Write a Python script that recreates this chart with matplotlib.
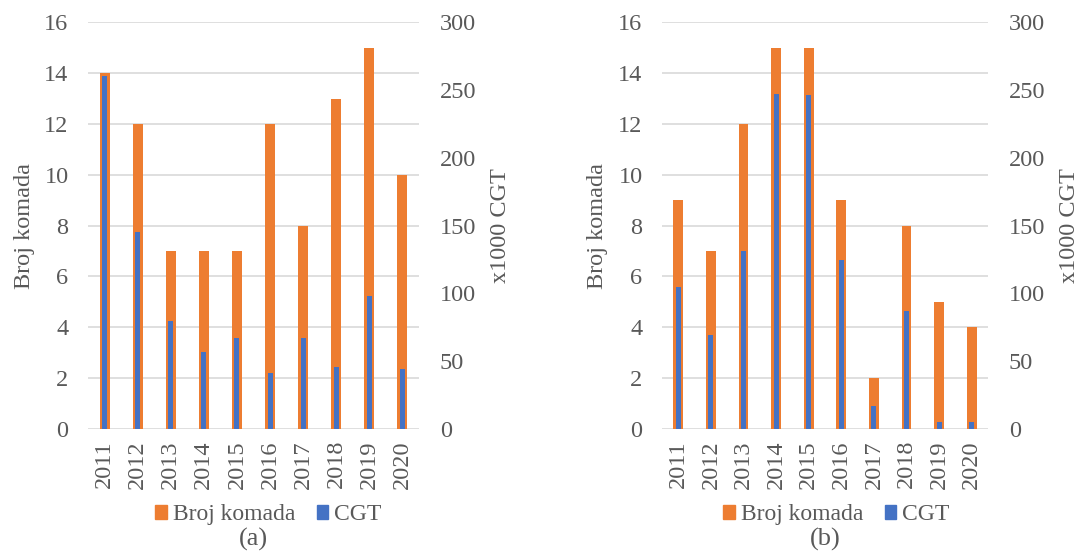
import numpy as np
import matplotlib.pyplot as plt
from matplotlib.patches import Patch

plt.rcParams['font.family'] = ['Liberation Serif', 'DejaVu Serif']

years = ['2011', '2012', '2013', '2014', '2015', '2016', '2017', '2018', '2019', '2020']

# panel (a)
komada_a = [14, 12, 7, 7, 7, 12, 8, 13, 15, 10]
cgt_a = [260, 145, 80, 57, 67, 41, 67, 46, 98, 44]

# panel (b)
komada_b = [9, 7, 12, 15, 15, 9, 2, 8, 5, 4]
cgt_b = [105, 69, 131, 247, 246, 125, 17, 87, 5, 5]

orange = '#ED7D31'
blue = '#4472C4'
txt = '#595959'
grid = '#D9D9D9'
fs = 17.5

fig = plt.figure(figsize=(10.91, 5.56), dpi=100)
panels = [
    (fig.add_axes([0.0807, 0.2284, 0.3033, 0.7316]), komada_a, cgt_a, '(a)', 0.0137),
    (fig.add_axes([0.6068, 0.2284, 0.2988, 0.7316]), komada_b, cgt_b, '(b)', 0.0105),
]

x = np.arange(len(years))
for ax, kom, cgt, tag, shift in panels:
    ax.bar(x, kom, width=0.30, color=orange, zorder=2)
    ax.set_ylim(0, 16)
    ax.set_yticks(range(0, 17, 2))
    ax.set_xlim(-0.5, len(years) - 0.5)
    ax.set_xticks(x)
    ax.set_xticklabels(years, rotation=90)
    ax.yaxis.grid(True, color=grid, linewidth=1.2, zorder=0)
    ax.set_axisbelow(True)
    ax.set_ylabel('Broj komada', fontsize=fs, color=txt, labelpad=7)
    ax.tick_params(axis='y', length=0, pad=14, labelsize=fs, labelcolor=txt)
    ax.tick_params(axis='x', length=0, pad=8, labelsize=fs, labelcolor=txt)
    for s in ax.spines.values():
        s.set_visible(False)

    ax2 = ax.twinx()
    ax2.bar(x, cgt, width=0.15, color=blue, zorder=3)
    ax2.set_ylim(0, 300)
    ax2.set_yticks(range(0, 301, 50))
    ax2.set_ylabel('x1000 CGT', fontsize=fs, color=txt, labelpad=10)
    ax2.tick_params(axis='y', length=0, pad=15, labelsize=fs, labelcolor=txt)
    for s in ax2.spines.values():
        s.set_visible(False)

    pos = ax.get_position()
    cx = (pos.x0 + pos.x1) / 2
    handles = [Patch(color=orange, label='Broj komada'), Patch(color=blue, label='CGT')]
    fig.legend(handles=handles, loc='center', bbox_to_anchor=(cx + shift, 0.074),
               ncol=2, frameon=False, fontsize=fs - 0.5, handlelength=0.5, handleheight=0.5,
               handletextpad=0.25, columnspacing=0.9, labelcolor=txt)
    fig.text(cx, 0.030, tag, ha='center', va='center', fontsize=19, color=txt)

fig.savefig('out.png', dpi=100)
